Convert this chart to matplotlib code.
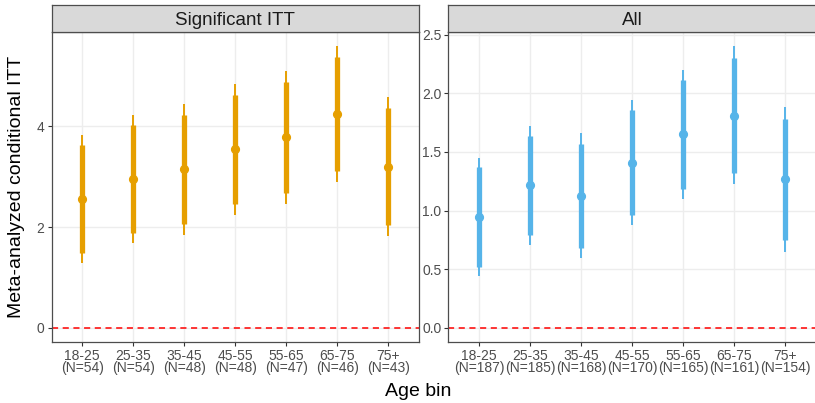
import matplotlib.pyplot as plt

plt.rcParams['font.family'] = ['Liberation Sans', 'DejaVu Sans']

age_bins = ["18-25", "25-35", "35-45", "45-55", "55-65", "65-75", "75+"]

# Significant ITT panel
sig_n = [54, 54, 48, 48, 47, 46, 43]
sig_est = [2.56, 2.95, 3.15, 3.55, 3.79, 4.24, 3.20]
sig_lo_inner = [1.49, 1.89, 2.06, 2.46, 2.68, 3.11, 2.05]
sig_hi_inner = [3.63, 4.03, 4.22, 4.63, 4.89, 5.37, 4.36]
sig_lo_outer = [1.28, 1.68, 1.85, 2.24, 2.47, 2.89, 1.82]
sig_hi_outer = [3.84, 4.22, 4.44, 4.85, 5.10, 5.59, 4.58]

# All panel
all_n = [187, 185, 168, 170, 165, 161, 154]
all_est = [0.945, 1.215, 1.127, 1.41, 1.65, 1.81, 1.27]
all_lo_inner = [0.52, 0.79, 0.68, 0.965, 1.18, 1.32, 0.75]
all_hi_inner = [1.37, 1.64, 1.57, 1.86, 2.11, 2.30, 1.78]
all_lo_outer = [0.44, 0.71, 0.60, 0.88, 1.10, 1.23, 0.65]
all_hi_outer = [1.45, 1.72, 1.66, 1.94, 2.20, 2.40, 1.88]

W, H = 815, 403
fig = plt.figure(figsize=(W / 100, H / 100), dpi=100)


def panel(left, title, n, est, lo_in, hi_in, lo_out, hi_out, color, yticks, fmt):
    ax = fig.add_axes([left / W, 1 - 342 / H, 367.5 / W, (342 - 32.3) / H])
    x = list(range(len(age_bins)))
    ax.vlines(x, lo_out, hi_out, color=color, lw=1.4, zorder=3)
    ax.vlines(x, lo_in, hi_in, color=color, lw=3.8, zorder=4)
    ax.plot(x, est, 'o', color=color, ms=5.6, zorder=5)
    ax.axhline(0, color='red', ls=(0, (4, 3)), lw=1.1, zorder=2)
    top = max(hi_out)
    ax.set_ylim(-0.05 * top, top * 1.05)
    ax.set_xlim(-0.6, len(age_bins) - 0.4)
    ax.set_xticks(x)
    ax.set_xticklabels([f"{a}\n(N={k})" for a, k in zip(age_bins, n)],
                       linespacing=0.85)
    ax.set_yticks(yticks)
    ax.set_yticklabels([fmt.format(v) for v in yticks])
    ax.grid(True, color='#EDEDED', lw=1.0, zorder=0)
    ax.set_axisbelow(True)
    ax.tick_params(colors='#333333', labelcolor='#4D4D4D', labelsize=10,
                   length=3, width=0.8, pad=2)
    for s in ax.spines.values():
        s.set_color('#4D4D4D')
        s.set_linewidth(0.9)
    # facet strip
    sax = fig.add_axes([left / W, 1 - 32.3 / H, 367.5 / W, 27.3 / H])
    sax.set_facecolor('#D9D9D9')
    sax.set_xticks([])
    sax.set_yticks([])
    for s in sax.spines.values():
        s.set_color('#4D4D4D')
        s.set_linewidth(0.9)
    sax.text(0.5, 0.45, title, ha='center', va='center', fontsize=13.5,
             color='#1A1A1A', transform=sax.transAxes)
    return ax


panel(51.5, "Significant ITT", sig_n, sig_est, sig_lo_inner, sig_hi_inner,
      sig_lo_outer, sig_hi_outer, '#E69F00', [0, 2, 4], "{:g}")
panel(448.3, "All", all_n, all_est, all_lo_inner, all_hi_inner,
      all_lo_outer, all_hi_outer, '#56B4E9', [0, 0.5, 1, 1.5, 2, 2.5], "{:.1f}")

fig.text(418 / W, 1 - 392 / H, "Age bin", ha='center', va='center', fontsize=14)
fig.text(17 / W, 1 - 187 / H, "Meta-analyzed conditional ITT", ha='center',
         va='center', rotation=90, fontsize=14)

fig.savefig("out.png", dpi=100)
